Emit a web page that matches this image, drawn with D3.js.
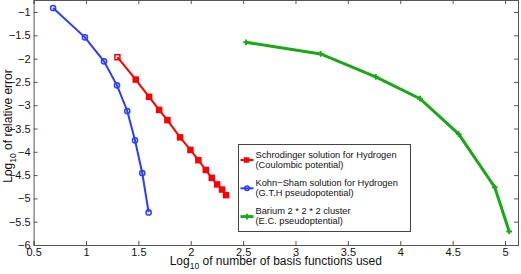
<!DOCTYPE html>
<html>
<head>
<meta charset="utf-8">
<script src="https://cdn.jsdelivr.net/npm/d3@7"></script>
<style>
  html, body { margin: 0; padding: 0; background: #fff; }
  svg { display: block; font-family: "Liberation Sans", Arial, Helvetica, sans-serif; }
</style>
</head>
<body>
<svg id="chart"></svg>
<script>
// Schrodinger solution for Hydrogen (Coulombic potential)
const redX = [1.30, 1.475, 1.602, 1.698, 1.777, 1.898, 1.997, 2.073, 2.144, 2.201, 2.252, 2.299, 2.337];
const redY = [-1.97, -2.45, -2.82, -3.10, -3.32, -3.69, -3.96, -4.18, -4.39, -4.56, -4.70, -4.81, -4.93];

// Kohn-Sham solution for Hydrogen (G.T.H pseudopotential)
const blueX = [0.686, 0.99, 1.172, 1.296, 1.394, 1.468, 1.537, 1.598];
const blueY = [-0.914, -1.543, -2.058, -2.573, -3.124, -3.753, -4.455, -5.30];

// Barium 2*2*2 cluster (E.C. pseudoptential)
const greenX = [2.528, 3.24, 3.766, 4.189, 4.558, 4.902, 5.04];
const greenY = [-1.65, -1.90, -2.39, -2.86, -3.62, -4.76, -5.71];

const xTicks = [0.5, 1, 1.5, 2, 2.5, 3, 3.5, 4, 4.5, 5];
const yTicks = [-6, -5.5, -5, -4.5, -4, -3.5, -3, -2.5, -2, -1.5, -1];

const legendLabels = [
    ["Schrodinger solution for Hydrogen", "(Coulombic potential)"],
    ["Kohn\u2212Sham solution for Hydrogen", "(G.T.H pseudopotential)"],
    ["Barium 2 * 2 * 2 cluster", "(E.C. pseudoptential)"]
];

const W = 521, H = 274;
const svg = d3.select("#chart").attr("width", W).attr("height", H);

// scales
const x = d3.scaleLinear().domain([0.5, 5.124]).range([33.6, 518]);
const y = d3.scaleLinear().domain([-6, -0.742]).range([245, 0]);

const axisColor = "#555";
const fmt = v => String(v).replace("-", "\u2212");

// axes (ticks drawn inward like matlab)
const gx = svg.append("g")
    .attr("transform", `translate(0,${y.range()[0]})`)
    .call(d3.axisBottom(x).tickValues(xTicks).tickSize(-4).tickPadding(7).tickFormat(fmt));
const gy = svg.append("g")
    .attr("transform", `translate(${x.range()[0]},0)`)
    .call(d3.axisLeft(y).tickValues(yTicks).tickSize(-4).tickPadding(3).tickFormat(fmt));
const gxTop = svg.append("g")
    .attr("transform", `translate(0,${y.range()[1]})`)
    .call(d3.axisTop(x).tickValues(xTicks).tickSize(-4).tickFormat(""));
const gyRight = svg.append("g")
    .attr("transform", `translate(${x.range()[1]},0)`)
    .call(d3.axisRight(y).tickValues(yTicks).tickSize(-4).tickFormat(""));

[gx, gy, gxTop, gyRight].forEach(g => {
    g.select(".domain").attr("stroke", axisColor).attr("stroke-width", 1);
    g.selectAll(".tick line").attr("stroke", axisColor);
    g.selectAll("text").attr("font-size", "11px").attr("fill", "#111")
        .attr("font-family", "Liberation Sans, Arial, sans-serif");
});
gx.selectAll(".tick text").attr("dy", "0.4em");

// axis labels
const xl = svg.append("text")
    .attr("x", (x.range()[0] + x.range()[1]) / 2)
    .attr("y", 265)
    .attr("text-anchor", "middle")
    .attr("font-size", "12px")
    .attr("fill", "#111");
xl.append("tspan").text("Log");
xl.append("tspan").attr("font-size", "8.5px").attr("dy", 4).text("10");
xl.append("tspan").attr("dy", -4).text(" of number of basis functions used");

const yl = svg.append("text")
    .attr("transform", "translate(12,126) rotate(-90)")
    .attr("text-anchor", "middle")
    .attr("font-size", "12px")
    .attr("fill", "#111");
yl.append("tspan").text("Log");
yl.append("tspan").attr("font-size", "8.5px").attr("dy", 4).text("10");
yl.append("tspan").attr("dy", -4).text(" of relative error");

const line = d3.line()
    .x(d => x(d[0]))
    .y(d => y(d[1]));

const redColor = "#ff0000", blueColor = "#2b3cff", greenColor = "#18a818";

const redData = d3.zip(redX, redY);
const blueData = d3.zip(blueX, blueY);
const greenData = d3.zip(greenX, greenY);

const plot = svg.append("g");

// green
plot.append("path").datum(greenData)
    .attr("fill", "none").attr("stroke", greenColor).attr("stroke-width", 3)
    .attr("d", line);
const star = d3.symbol().type(d3.symbolCross).size(18);
plot.selectAll(".gm").data(greenData).enter().append("path")
    .attr("class", "gm")
    .attr("transform", d => `translate(${x(d[0])},${y(d[1])})`)
    .attr("d", star)
    .attr("fill", greenColor);

// red
plot.append("path").datum(redData)
    .attr("fill", "none").attr("stroke", redColor).attr("stroke-width", 2)
    .attr("d", line);
plot.selectAll(".rm").data(redData).enter().append("rect")
    .attr("class", "rm")
    .attr("x", d => x(d[0]) - 2.5).attr("y", d => y(d[1]) - 2.5)
    .attr("width", 5).attr("height", 5)
    .attr("fill", (d, i) => i === 0 ? "none" : redColor)
    .attr("stroke", redColor).attr("stroke-width", 1.5);

// blue
plot.append("path").datum(blueData)
    .attr("fill", "none").attr("stroke", blueColor).attr("stroke-width", 2)
    .attr("d", line);
plot.selectAll(".bm").data(blueData).enter().append("circle")
    .attr("class", "bm")
    .attr("cx", d => x(d[0])).attr("cy", d => y(d[1]))
    .attr("r", 2.6)
    .attr("fill", "none").attr("stroke", blueColor).attr("stroke-width", 1.5);

// legend
const legend = svg.append("g").attr("transform", "translate(238.5,144.5)");
legend.append("rect")
    .attr("width", 172).attr("height", 87)
    .attr("fill", "#fff").attr("stroke", "#444").attr("stroke-width", 1);

const legColors = [redColor, blueColor, greenColor];
const items = legend.selectAll(".legend-item")
    .data(legendLabels)
    .enter().append("g")
    .attr("class", "legend-item")
    .attr("transform", (d, i) => `translate(0,${9 + i * 28.3})`);

items.append("line")
    .attr("x1", 2).attr("x2", 15).attr("y1", 6.5).attr("y2", 6.5)
    .attr("stroke", (d, i) => legColors[i])
    .attr("stroke-width", (d, i) => i === 2 ? 3 : 2);
items.each(function (d, i) {
    const g = d3.select(this);
    if (i === 0) {
        g.append("rect").attr("x", 6).attr("y", 4.5).attr("width", 4).attr("height", 4)
            .attr("fill", redColor).attr("stroke", redColor).attr("stroke-width", 1.5);
    } else if (i === 1) {
        g.append("circle").attr("cx", 8.5).attr("cy", 6.5).attr("r", 2.2)
            .attr("fill", "none").attr("stroke", blueColor).attr("stroke-width", 1.5);
    } else {
        g.append("path").attr("transform", "translate(8.5,6.5)").attr("d", star)
            .attr("fill", greenColor);
    }
});
items.append("text")
    .attr("x", 17).attr("y", 4)
    .attr("font-size", "9.3px").attr("fill", "#111")
    .text(d => d[0]);
items.append("text")
    .attr("x", 17).attr("y", 14)
    .attr("font-size", "9.3px").attr("fill", "#111")
    .text(d => d[1]);
</script>
</body>
</html>
